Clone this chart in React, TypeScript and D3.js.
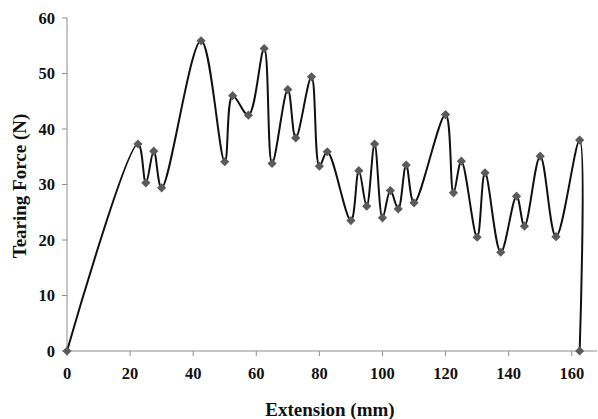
import React from 'react'
import * as d3 from 'd3'

// extension (mm) and tearing force (N)
const extension = [
  0, 22.5, 25, 27.5, 30, 42.5, 50, 52.5, 57.5, 62.5, 65, 70, 72.5, 77.5, 80, 82.5,
  90, 92.5, 95, 97.5, 100, 102.5, 105, 107.5, 110, 120, 122.5, 125, 130, 132.5,
  137.5, 142.5, 145, 150, 155, 162.5, 162.5,
]
const force = [
  0, 37.3, 30.3, 36.0, 29.4, 55.9, 34.1, 46.0, 42.5, 54.5, 33.8, 47.1, 38.4, 49.4, 33.3, 35.9,
  23.5, 32.5, 26.1, 37.3, 24.0, 28.9, 25.6, 33.5, 26.7, 42.6, 28.5, 34.2, 20.5, 32.1,
  17.8, 27.9, 22.5, 35.1, 20.6, 38.0, 0,
]
const xTicks = [0, 20, 40, 60, 80, 100, 120, 140, 160]
const yTicks = [0, 10, 20, 30, 40, 50, 60]

const App = () => {
  const width = 598,
    height = 419

  const left = 67,
    right = 597,
    top = 18,
    bottom = 351

  const x = d3.scaleLinear().domain([0, 168]).range([left, right])
  const y = d3.scaleLinear().domain([0, 60]).range([bottom, top])

  const data = extension.map((e, i) => ({ x: e, y: force[i] }))

  // Excel-style smoothed line
  const line = d3
    .line<{ x: number; y: number }>()
    .x(d => x(d.x))
    .y(d => y(d.y))
    .curve(d3.curveCatmullRom.alpha(0.5))

  const diamond = d3.symbol().type(d3.symbolSquare).size(42)()

  const font = '"Liberation Serif", "Times New Roman", serif'
  const axisColor = '#8c8c8c'

  return (
    <svg
      width={width}
      height={height}
      style={{ position: 'absolute', left: 0, top: 0, background: '#fff' }}
      fontFamily={font}
      fontWeight="bold"
    >
      {/* axes */}
      <line x1={left} x2={right} y1={bottom} y2={bottom} stroke={axisColor} strokeWidth={1} />
      <line x1={left} x2={left} y1={top} y2={bottom} stroke={axisColor} strokeWidth={1} />

      {/* y ticks */}
      {yTicks.map(d => (
        <g key={d} transform={`translate(${left}, ${y(d)})`}>
          <line x1={-5} x2={0} stroke={axisColor} />
          <text x={-12} dy="0.35em" textAnchor="end" fontSize={16.5} fill="#111">
            {d}
          </text>
        </g>
      ))}

      {/* x ticks */}
      {xTicks.map(d => (
        <g key={d} transform={`translate(${x(d)}, ${bottom})`}>
          <line y1={0} y2={5} stroke={axisColor} />
          <text y={22} dy="0.35em" textAnchor="middle" fontSize={16.5} fill="#111">
            {d}
          </text>
        </g>
      ))}

      {/* data line */}
      <path d={line(data) || ''} fill="none" stroke="#111" strokeWidth={2} />

      {/* markers */}
      {data.map((d, i) => (
        <path
          key={i}
          d={diamond || ''}
          transform={`translate(${x(d.x)}, ${y(d.y)}) rotate(45)`}
          fill="#5a5a5a"
        />
      ))}

      {/* axis titles */}
      <text x={330} y={409} dy="0.35em" textAnchor="middle" fontSize={19} fill="#111">
        Extension (mm)
      </text>
      <text
        transform={`translate(19, 186) rotate(-90)`}
        dy="0.35em"
        textAnchor="middle"
        fontSize={19}
        fill="#111"
      >
        Tearing Force (N)
      </text>
    </svg>
  )
}

export default App
